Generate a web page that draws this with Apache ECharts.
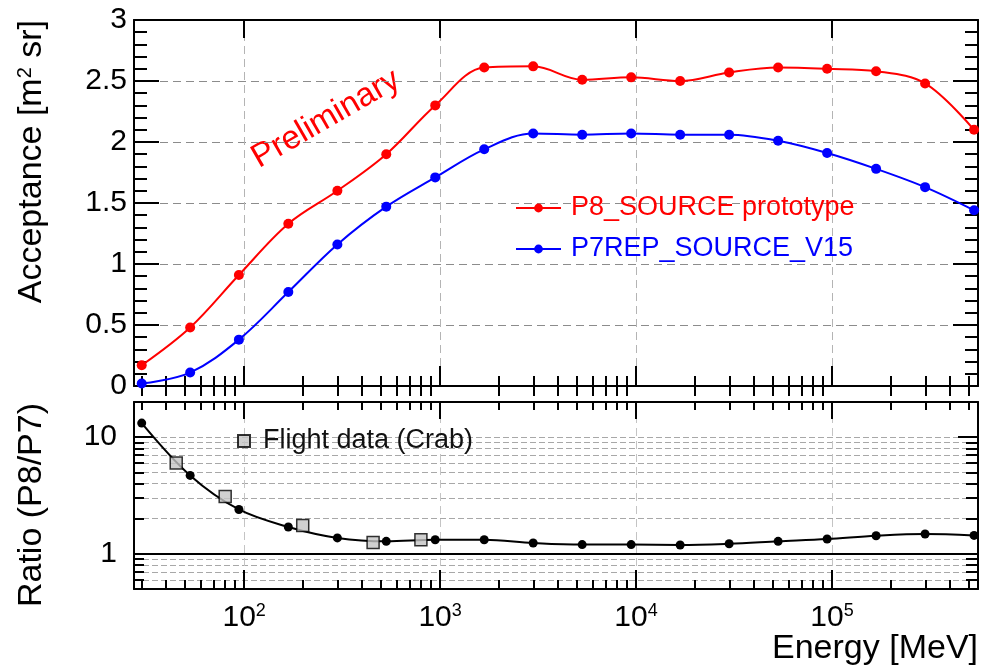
<!DOCTYPE html>
<html>
<head>
<meta charset="utf-8">
<script src="https://cdn.jsdelivr.net/npm/echarts@6/dist/echarts.min.js"></script>
<style>
  html, body { margin: 0; padding: 0; background: #fff; }
  #chart { width: 984px; height: 669px; }
</style>
</head>
<body>
<div id="chart"></div>
<script>
// Energy bin centres [MeV]
const energy = [30, 53, 94, 168, 299, 531, 944, 1679, 2985, 5309, 9441, 16788, 29854, 53088, 94406, 167880, 298538, 530884];
// Acceptance [m^2 sr]
const accP8 = [0.17, 0.48, 0.91, 1.33, 1.60, 1.90, 2.30, 2.61, 2.62, 2.51, 2.53, 2.50, 2.57, 2.61, 2.60, 2.58, 2.48, 2.10];
const accP7 = [0.02, 0.11, 0.38, 0.77, 1.16, 1.47, 1.71, 1.94, 2.07, 2.06, 2.07, 2.06, 2.06, 2.01, 1.91, 1.78, 1.63, 1.44];
// Ratio P8/P7
const ratioP8P7 = [13.2, 4.7, 2.4, 1.70, 1.37, 1.28, 1.32, 1.32, 1.24, 1.20, 1.20, 1.19, 1.22, 1.28, 1.34, 1.43, 1.48, 1.44];
// Flight data (Crab)
const flightEnergy = [45, 80, 199, 455, 798];
const flightRatio = [6.0, 3.1, 1.75, 1.25, 1.32];

// Axis ranges and tick values
const xMin = 27.4, xMax = 556000;
const decadeTicks = [100, 1000, 10000, 100000];
const ratioLabelTicks = [1, 10];
const ratioGridTicks = [0.6, 0.7, 0.8, 0.9, 2, 3, 4, 5, 6, 7, 8, 9, 10];

const energyMinorTicks = [];
[10, 100, 1000, 10000, 100000].forEach(function (d) {
  for (let m = 2; m <= 9; m++) {
    const v = m * d;
    if (v >= xMin && v <= xMax) energyMinorTicks.push(v);
  }
});

const FONT = 'Liberation Sans';
const BLACK = '#000';

function pairs(xs, ys) { return xs.map(function (x, i) { return [x, ys[i]]; }); }

function energyAxis(grid, pos, ticks, len, extra) {
  return Object.assign({
    type: 'log', logBase: 10, gridIndex: grid, position: pos, min: xMin, max: xMax,
    axisLine: { show: true, onZero: false, lineStyle: { color: BLACK, width: 2 } },
    axisTick: { show: true, inside: true, length: len, customValues: ticks, lineStyle: { color: BLACK, width: 2 } },
    axisLabel: { show: false },
    splitLine: { show: false },
    minorTick: { show: false },
    minorSplitLine: { show: false }
  }, extra || {});
}

function ratioAxis(pos, ticks, len, extra) {
  return Object.assign({
    type: 'log', logBase: 10, gridIndex: 1, position: pos, min: 0.5, max: 20,
    axisLine: { show: true, onZero: false, lineStyle: { color: BLACK, width: 2 } },
    axisTick: { show: true, inside: true, length: len, customValues: ticks, lineStyle: { color: BLACK, width: 2 } },
    axisLabel: { show: false },
    splitLine: { show: false },
    minorTick: { show: false },
    minorSplitLine: { show: false }
  }, extra || {});
}

function acceptanceAxis(pos, extra) {
  return Object.assign({
    type: 'value', gridIndex: 0, position: pos, min: 0, max: 3, interval: 0.5,
    axisLine: { show: true, onZero: false, lineStyle: { color: BLACK, width: 2 } },
    axisTick: { show: true, inside: true, length: 25, lineStyle: { color: BLACK, width: 2 } },
    minorTick: { show: true, splitNumber: 5, length: 13, lineStyle: { color: BLACK, width: 2 } },
    axisLabel: { show: false },
    splitLine: { show: false }
  }, extra || {});
}

const chart = echarts.init(document.getElementById('chart'), null, { renderer: 'canvas' });

chart.setOption({
  animation: false,
  backgroundColor: '#fff',
  textStyle: { fontFamily: FONT },
  grid: [
    { left: 134, top: 20, width: 844, height: 366 },
    { left: 134, top: 402, width: 844, height: 187 }
  ],
  xAxis: [
    // upper panel
    energyAxis(0, 'bottom', decadeTicks, 20, {
      splitLine: { show: true, lineStyle: { color: '#b4b4b4', width: 1, type: [8, 5] } }
    }),
    energyAxis(0, 'bottom', energyMinorTicks, 10, { axisLine: { show: false } }),
    energyAxis(0, 'top', decadeTicks, 18),
    energyAxis(0, 'top', energyMinorTicks, 10, { axisLine: { show: false } }),
    // lower panel
    energyAxis(1, 'bottom', decadeTicks, 19, {
      splitLine: { show: true, lineStyle: { color: '#c4c4c4', width: 1, type: [8, 5] } },
      axisLabel: {
        show: true, customValues: decadeTicks, margin: 13,
        fontSize: 30, lineHeight: 32, color: BLACK, fontFamily: FONT,
        formatter: function (v) { return '10{sup|' + Math.round(Math.log10(v)) + '}'; },
        rich: { sup: { fontSize: 18, lineHeight: 18, verticalAlign: 'top', color: BLACK, fontFamily: FONT } }
      }
    }),
    energyAxis(1, 'bottom', energyMinorTicks, 9, { axisLine: { show: false } }),
    energyAxis(1, 'top', decadeTicks, 17),
    energyAxis(1, 'top', energyMinorTicks, 8, { axisLine: { show: false } })
  ],
  yAxis: [
    acceptanceAxis('left', {
      axisLabel: { show: true, margin: 7, fontSize: 30, color: BLACK, fontFamily: FONT },
      splitLine: { show: true, lineStyle: { color: '#8c8c8c', width: 1, type: [8, 5] } }
    }),
    acceptanceAxis('right'),
    ratioAxis('left', ratioLabelTicks, 20, {
      axisLabel: { show: true, customValues: ratioLabelTicks, margin: 17, fontSize: 30, color: BLACK, fontFamily: FONT }
    }),
    ratioAxis('left', ratioGridTicks, 10, {
      axisLine: { show: false },
      splitLine: { show: true, lineStyle: { color: '#a8a8a8', width: 1, type: [6, 3] } }
    }),
    ratioAxis('right', ratioLabelTicks, 20),
    ratioAxis('right', ratioGridTicks, 12, { axisLine: { show: false } })
  ],
  legend: [
    {
      orient: 'vertical', left: 515, top: 193, padding: 0,
      itemWidth: 45, itemHeight: 11, itemGap: 11,
      selectedMode: false,
      textStyle: { fontSize: 27, lineHeight: 30, fontFamily: FONT, padding: [0, 0, 0, 5] },
      data: [
        { name: 'P8_SOURCE prototype', textStyle: { color: '#ff0000' } },
        { name: 'P7REP_SOURCE_V15', textStyle: { color: '#0000ff' } }
      ]
    },
    {
      left: 237, top: 426, padding: 0, itemWidth: 12, itemHeight: 12,
      selectedMode: false,
      textStyle: { fontSize: 27, lineHeight: 30, color: '#111', fontFamily: FONT, padding: [0, 0, 0, 8] },
      data: [{ name: 'Flight data (Crab)', icon: 'rect' }]
    }
  ],
  series: [
    {
      name: 'P8_SOURCE prototype', type: 'line', xAxisIndex: 0, yAxisIndex: 0,
      data: pairs(energy, accP8), smooth: 0.35,
      symbol: 'circle', symbolSize: 10,
      itemStyle: { color: '#ff0000' }, lineStyle: { color: '#ff0000', width: 2 }
    },
    {
      name: 'P7REP_SOURCE_V15', type: 'line', xAxisIndex: 0, yAxisIndex: 0,
      data: pairs(energy, accP7), smooth: 0.35,
      symbol: 'circle', symbolSize: 10,
      itemStyle: { color: '#0000ff' }, lineStyle: { color: '#0000ff', width: 2 }
    },
    {
      name: 'P8/P7', type: 'line', xAxisIndex: 4, yAxisIndex: 2,
      data: pairs(energy, ratioP8P7), smooth: 0.35,
      symbol: 'circle', symbolSize: 9,
      itemStyle: { color: BLACK }, lineStyle: { color: BLACK, width: 2 },
      markLine: {
        silent: true, symbol: 'none', label: { show: false },
        lineStyle: { color: BLACK, width: 2, type: 'solid' },
        data: [{ yAxis: 1 }]
      }
    },
    {
      name: 'Flight data (Crab)', type: 'scatter', xAxisIndex: 4, yAxisIndex: 2,
      data: pairs(flightEnergy, flightRatio), z: 5,
      symbol: 'rect', symbolSize: 12,
      itemStyle: { color: '#c4c4c4', borderColor: BLACK, borderWidth: 1.5 }
    }
  ],
  graphic: [
    {
      type: 'text', x: 32, y: 20, rotation: Math.PI / 2,
      style: {
        text: 'Acceptance [m{sup|2} sr]', fontSize: 34, fontFamily: FONT, fill: BLACK,
        align: 'right', verticalAlign: 'middle',
        rich: { sup: { fontSize: 20, verticalAlign: 'top', fontFamily: FONT, fill: BLACK } }
      }
    },
    {
      type: 'text', x: 32, y: 403, rotation: Math.PI / 2,
      style: { text: 'Ratio (P8/P7)', fontSize: 34, fontFamily: FONT, fill: BLACK, align: 'right', verticalAlign: 'middle' }
    },
    {
      type: 'text', x: 978, y: 649,
      style: { text: 'Energy [MeV]', fontSize: 34, fontFamily: FONT, fill: BLACK, align: 'right', verticalAlign: 'middle' }
    },
    {
      type: 'text', x: 326, y: 119, rotation: Math.PI / 6,
      style: { text: 'Preliminary', fontSize: 33, fontFamily: FONT, fill: '#ff0000', align: 'center', verticalAlign: 'middle' }
    }
  ]
});
</script>
</body>
</html>
